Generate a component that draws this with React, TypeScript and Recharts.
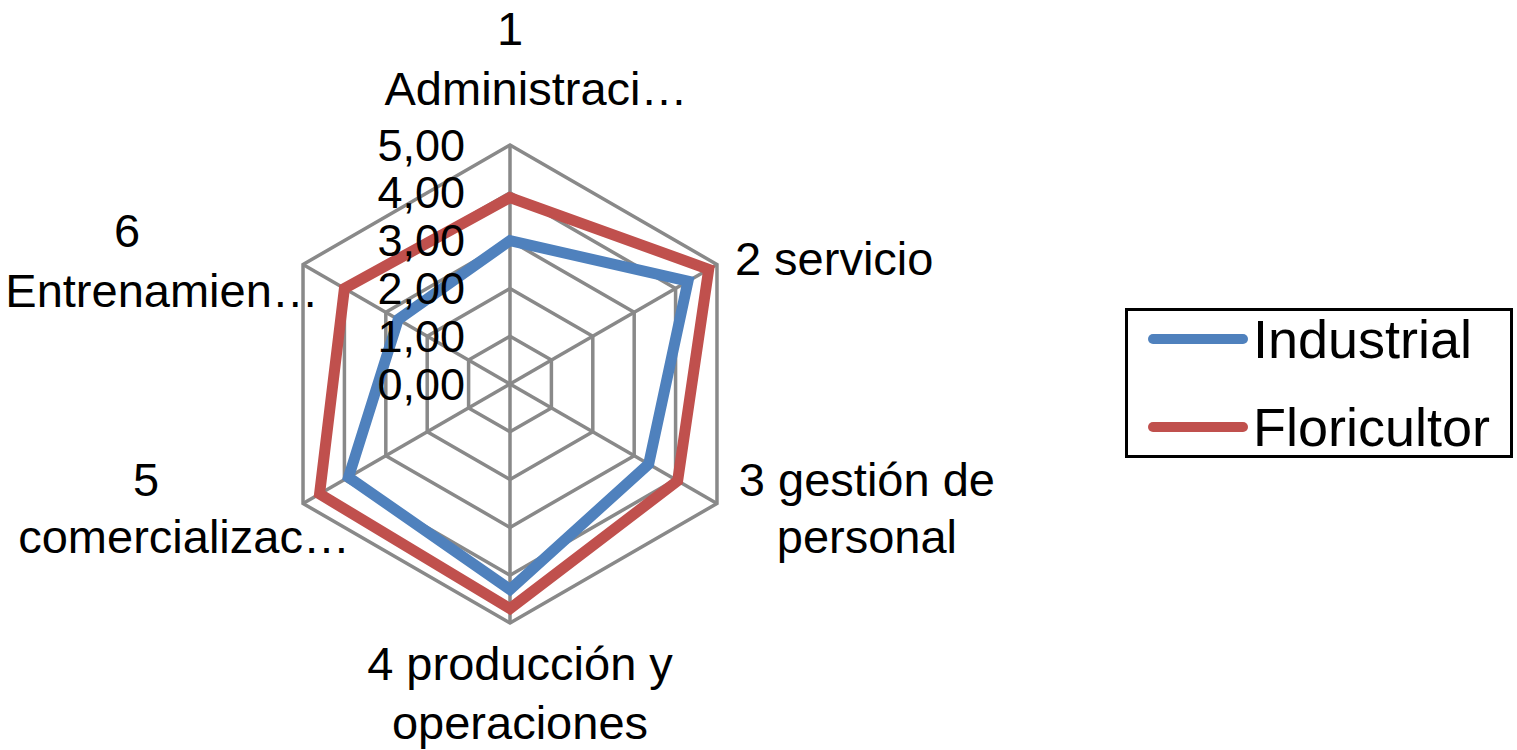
import React from "react";
import {
  RadarChart,
  Radar,
  PolarGrid,
  PolarAngleAxis,
  PolarRadiusAxis,
  Legend,
} from "recharts";

const categories = [
  "1 Administración",
  "2 servicio",
  "3 gestión de personal",
  "4 producción y operaciones",
  "5 comercialización",
  "6 Entrenamiento",
];
const industrial = [3.0, 4.3, 3.35, 4.3, 3.9, 2.7];
const floricultor = [3.9, 4.8, 4.05, 4.7, 4.6, 4.0];
const radiusTicks = [0, 1, 2, 3, 4, 5];
const seriesNames = ["Industrial", "Floricultor"];

// visible text of each category label, line by line (as truncated in the picture)
const categoryLines = [
  ["1", "Administraci…"],
  ["2 servicio"],
  ["3 gestión de", "personal"],
  ["4 producción y", "operaciones"],
  ["5", "comercializac…"],
  ["6", "Entrenamien…"],
];

const FONT = "'Liberation Sans', Arial, Helvetica, sans-serif";
const BLUE = "#4F81BD";
const RED = "#C0504D";

const data = categories.map((name, i) => ({
  name,
  Industrial: industrial[i],
  Floricultor: floricultor[i],
}));

// per-label offsets from the tick anchor point, [dx, dy] per line
const labelOffsets: [number, number][][] = [
  [[0, -109], [26, -49]],
  [[11, -2]],
  [[143, -28], [143, 29]],
  [[10, 32], [10, 91]],
  [[-150, -28], [-112, 29]],
  [[-169, -30], [-134, 30]],
];

function AngleTick(props: any) {
  const { x, y, index } = props;
  const lines = categoryLines[index] || [];
  const offs = labelOffsets[index] || [];
  const anchor = index === 1 ? "start" : "middle";
  return (
    <g>
      {lines.map((line, j) => (
        <text
          key={j}
          x={x + offs[j][0]}
          y={y + offs[j][1]}
          textAnchor={anchor}
          dominantBaseline="central"
          fontSize={47}
          fontFamily={FONT}
          fill="#000"
        >
          {line}
        </text>
      ))}
    </g>
  );
}

function RadiusTick(props: any) {
  const { x, y, payload } = props;
  return (
    <text
      x={x - 45}
      y={y}
      textAnchor="end"
      dominantBaseline="central"
      fontSize={45}
      fontFamily={FONT}
      fill="#000"
    >
      {Number(payload.value).toFixed(2).replace(".", ",")}
    </text>
  );
}

function LegendBox({ payload }: any) {
  const items = [...(payload || [])].sort(
    (a: any, b: any) => seriesNames.indexOf(a.value) - seriesNames.indexOf(b.value)
  );
  return (
    <div
      style={{
        width: 388,
        height: 150,
        boxSizing: "border-box",
        border: "3px solid #000",
        background: "#fff",
        display: "flex",
        flexDirection: "column",
        gap: 32,
        fontFamily: FONT,
      }}
    >
      {items.map((item: any) => (
        <div
          key={item.value}
          style={{ display: "flex", alignItems: "center", height: 56 }}
        >
          <svg width={110} height={56} style={{ marginLeft: 15 }}>
            <line
              x1={10}
              x2={100}
              y1={28}
              y2={28}
              stroke={item.color}
              strokeWidth={10}
              strokeLinecap="round"
            />
          </svg>
          <span style={{ fontSize: 54, lineHeight: "56px", color: "#000" }}>
            {item.value}
          </span>
        </div>
      ))}
    </div>
  );
}

export default function App() {
  return (
    <div style={{ width: 1517, height: 750, background: "#fff", position: "relative" }}>
      <style>{"body{margin:0}"}</style>
      <RadarChart
        width={1517}
        height={750}
        data={data}
        cx={510}
        cy={384}
        outerRadius={239}
        margin={{ top: 0, right: 0, bottom: 0, left: 0 }}
      >
        <PolarGrid
          gridType="polygon"
          stroke="#898989"
          strokeWidth={3.5}
          style={{ strokeWidth: 3.5 }}
        />
        <PolarAngleAxis
          dataKey="name"
          tick={<AngleTick />}
          tickLine={false}
          axisLine={false}
        />
        <PolarRadiusAxis
          angle={90}
          domain={[0, 5]}
          ticks={radiusTicks}
          tick={<RadiusTick />}
          tickLine={false}
          axisLine={false}
        />
        <Radar
          name="Industrial"
          dataKey="Industrial"
          stroke={BLUE}
          strokeWidth={11}
          fill="none"
          fillOpacity={0}
          dot={false}
          isAnimationActive={false}
        />
        <Radar
          name="Floricultor"
          dataKey="Floricultor"
          stroke={RED}
          strokeWidth={11}
          fill="none"
          fillOpacity={0}
          dot={false}
          isAnimationActive={false}
        />
        <Legend
          content={<LegendBox />}
          wrapperStyle={{ position: "absolute", left: 1125, top: 308, width: 388 }}
        />
      </RadarChart>
    </div>
  );
}
